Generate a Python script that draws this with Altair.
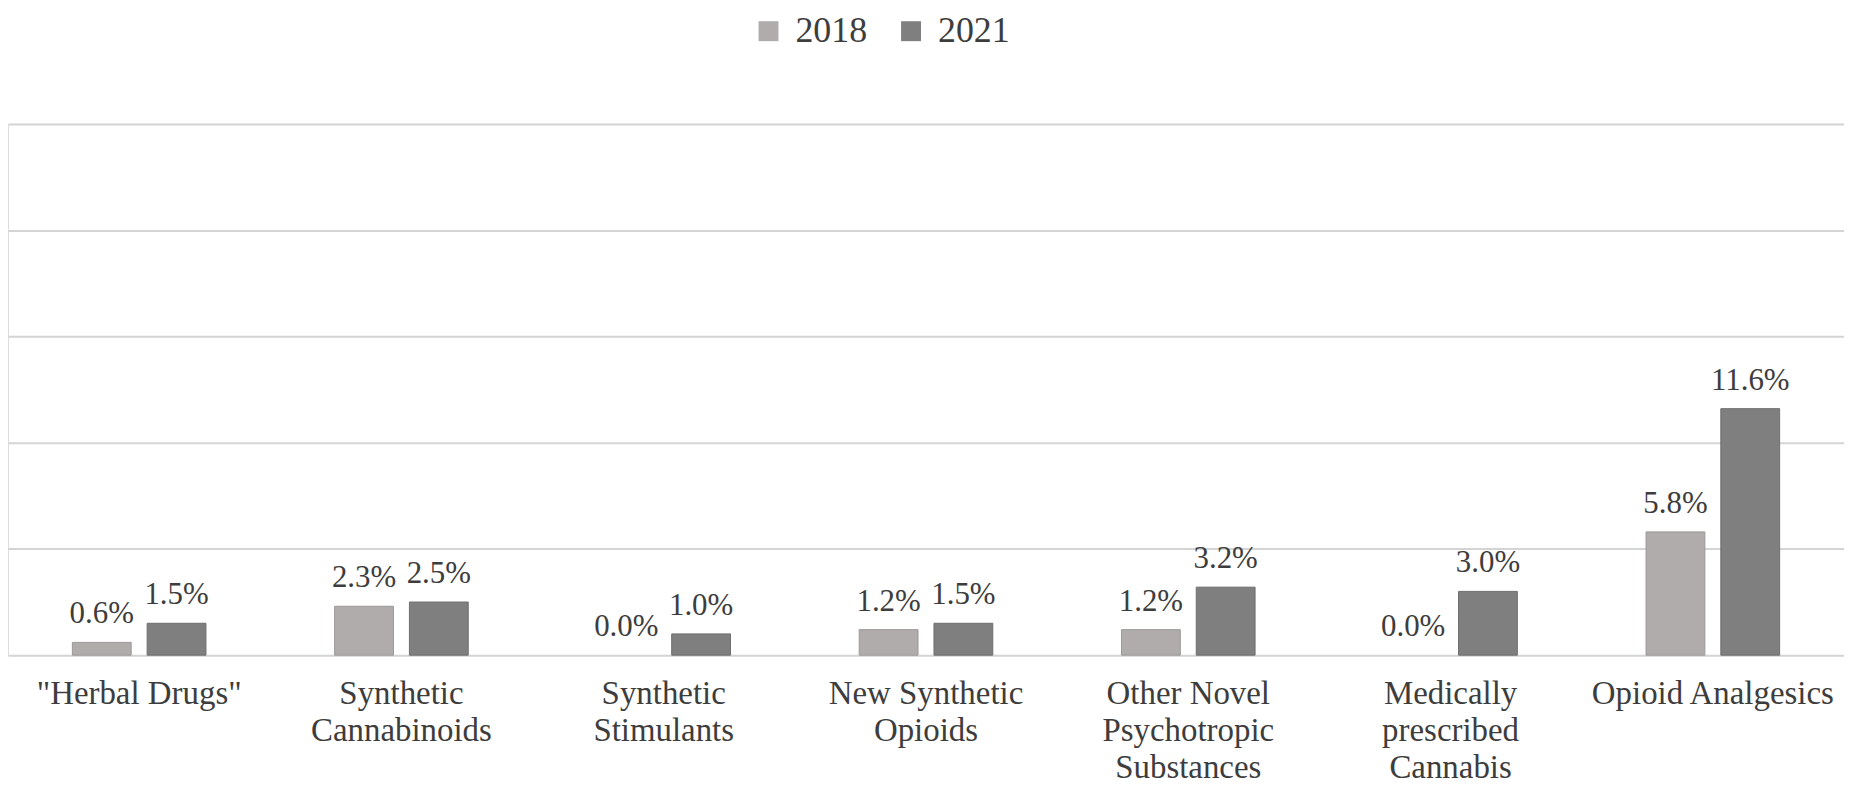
import json
import altair as alt
import pandas as pd

CATEGORY_LINES = [
    ['"Herbal Drugs"'],
    ["Synthetic", "Cannabinoids"],
    ["Synthetic", "Stimulants"],
    ["New Synthetic", "Opioids"],
    ["Other Novel", "Psychotropic", "Substances"],
    ["Medically", "prescribed", "Cannabis"],
    ["Opioid Analgesics"],
]
CATEGORIES = [" ".join(l) for l in CATEGORY_LINES]
YEARS = ["2018", "2021"]
VALUES_2018 = [0.6, 2.3, 0.0, 1.2, 1.2, 0.0, 5.8]
VALUES_2021 = [1.5, 2.5, 1.0, 1.5, 3.2, 3.0, 11.6]
Y_TICKS = [0, 5, 10, 15, 20, 25]

rows = []
for c, v in zip(CATEGORIES, VALUES_2018):
    rows.append({"category": c, "year": "2018", "value": v})
for c, v in zip(CATEGORIES, VALUES_2021):
    rows.append({"category": c, "year": "2021", "value": v})
df = pd.DataFrame(rows)

label_map = {c: l for c, l in zip(CATEGORIES, CATEGORY_LINES)}
label_expr = json.dumps(label_map) + "[datum.label]"

FONT = "Liberation Serif"
TEXT_COLOR = "#3d3d3d"

x_enc = alt.X(
    "category:N",
    sort=CATEGORIES,
    scale=alt.Scale(paddingInner=0.4907, paddingOuter=0.2454),
    axis=alt.Axis(
        title=None,
        labelAngle=0,
        labelExpr=label_expr,
        labelFont=FONT,
        labelFontSize=33,
        labelColor=TEXT_COLOR,
        labelPadding=23,
        labelLineHeight=37,
        labelLimit=400,
        ticks=False,
        tickSize=0,
        domain=False,
        grid=False,
    ),
)
xoff = alt.XOffset("year:N", sort=YEARS, scale=alt.Scale(paddingInner=0.2133, paddingOuter=0))
y_enc = alt.Y(
    "value:Q",
    scale=alt.Scale(domain=[0, 25], nice=False),
    axis=alt.Axis(
        title=None,
        values=Y_TICKS,
        labels=False,
        ticks=False,
        domain=False,
        grid=True,
        gridColor="#d4d4d4",
        gridWidth=2,
    ),
)

base = alt.Chart(df)

bars = base.transform_filter("datum.value > 0").mark_bar(strokeWidth=1).encode(
    x=x_enc,
    xOffset=xoff,
    y=y_enc,
    color=alt.Color(
        "year:N",
        sort=YEARS,
        scale=alt.Scale(domain=YEARS, range=["#afacab", "#7f7f7f"]),
        legend=alt.Legend(
            title=None,
            orient="none",
            direction="horizontal",
            legendX=745,
            legendY=-111,
            symbolType="square",
            symbolSize=400,
            symbolStrokeWidth=0,
            labelFont=FONT,
            labelFontSize=36,
            labelColor=TEXT_COLOR,
            labelOffset=9,
            columnPadding=26,
            padding=0,
        ),
    ),
    stroke=alt.Stroke(
        "year:N",
        sort=YEARS,
        scale=alt.Scale(domain=YEARS, range=["#9c9998", "#6e6e6e"]),
        legend=None,
    ),
)

texts = base.transform_calculate(
    label="format(datum.value, '.1f') + '%'"
).mark_text(
    font=FONT, fontSize=31, color=TEXT_COLOR, baseline="alphabetic", dy=-19
).encode(
    x=alt.X("category:N", sort=CATEGORIES),
    xOffset=alt.XOffset("year:N", sort=YEARS),
    y=alt.Y("value:Q"),
    text="label:N",
)

chart = (
    alt.layer(bars, texts)
    .properties(
        width=1842,
        height=533,
        autosize=alt.AutoSizeParams(type="none"),
        padding={"left": 0, "top": 115, "right": 0, "bottom": 130},
    )
    .configure_view(stroke="transparent", strokeWidth=0)
    .configure(font=FONT)
)

chart.save("out.html", embed_options={"renderer": "svg", "actions": False})
